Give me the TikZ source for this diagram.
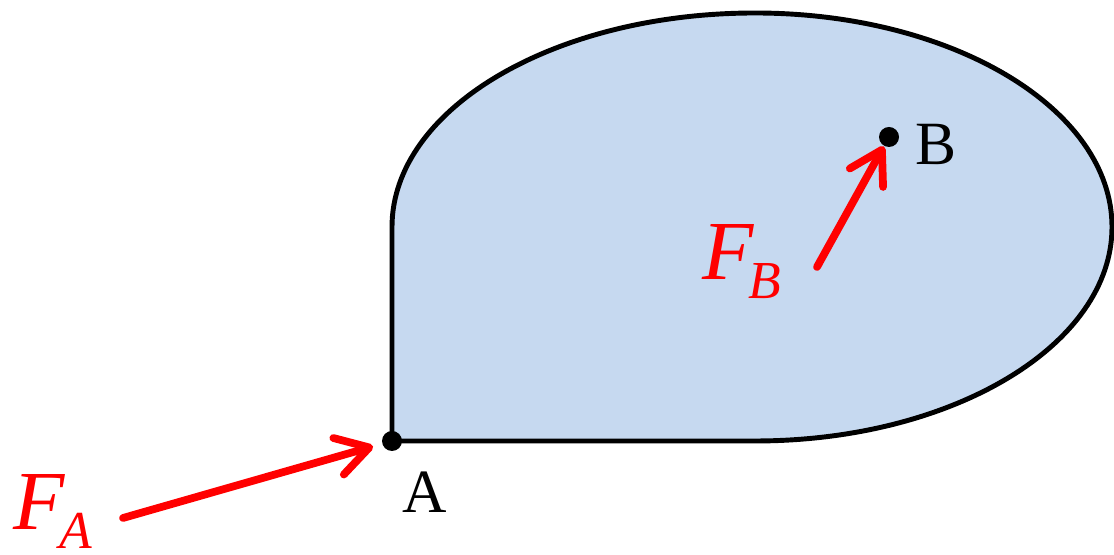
\documentclass[tikz,border=0pt]{standalone}
\usepackage{fontspec}
\setmainfont{Liberation Serif}
\usepackage{tikz}
\usetikzlibrary{arrows.meta, positioning}
\definecolor{bodyfill}{RGB}{198,217,240}
\definecolor{forcered}{RGB}{255,0,0}
\tikzstyle{body} = [draw=black, fill=bodyfill, line width=1.4pt, line join=round]
\tikzstyle{dot} = [circle, fill=black, inner sep=0pt, minimum size=0.2cm]
\tikzstyle{force} = [-{Straight Barb[length=3.2mm, width=3.8mm, round]},
draw=forcered, line width=2.2pt, line cap=round]
\tikzstyle{ptlabel} = [anchor=base west, inner sep=0pt,
font=\fontsize{17.5}{18}\selectfont]
\tikzstyle{forcelabel} = [anchor=base west, inner sep=0pt, text=forcered]
\newcommand{\forcename}[1]{{\fontsize{23.9}{24}\selectfont\itshape F}\kern-0.06cm%
\raisebox{-0.19cm}{\fontsize{15.2}{16}\selectfont\itshape #1}}

\begin{document}
\begin{tikzpicture}
    \useasboundingbox (0,0) rectangle (11.14,5.55);
    % the body
    \draw[body] (3.92,1.14) -- (7.55,1.14)
    arc[start angle=-90, end angle=90, x radius=3.57, y radius=2.14]
    arc[start angle=90, end angle=180, x radius=3.63, y radius=2.14]
    -- cycle;
    \node (A) [dot] at (3.92,1.14) {};
    \node (B) [dot] at (8.89,4.18) {};
    \node (labA) [ptlabel] at (4.02,0.42) {A};
    \node (labB) [ptlabel] at (9.15,3.90) {B};

    % forces
    \coordinate (fa) at (1.23,0.37);
    \coordinate (fb) at (8.17,2.88);
    \draw[force, shorten >=0.09cm] (fa) -- (A);
    \draw[force] (fb) -- (B);
    \node (nameA) [forcelabel] at (0.13,0.25) {\forcename{A}};
    \node (nameB) [forcelabel] at (7.02,2.75) {\forcename{B}};
\end{tikzpicture}
\end{document}
